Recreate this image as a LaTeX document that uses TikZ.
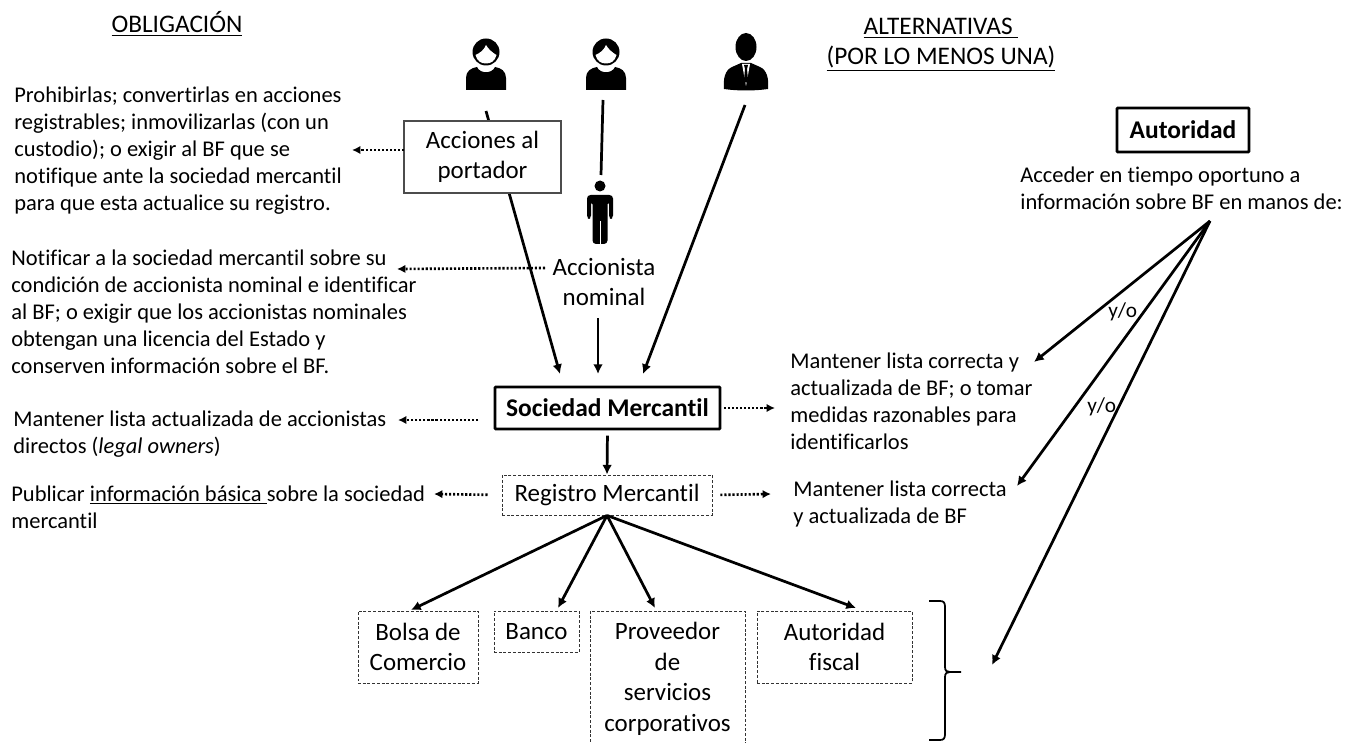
\documentclass[tikz,border=0pt]{standalone}
\usepackage{fontspec}
\setmainfont[Ligatures=NoCommon]{Carlito}
\usetikzlibrary{arrows.meta}

\tikzset{
  txt/.style={anchor=west, inner sep=0pt, align=left, font=\fontsize{12.8}{15.4}\selectfont},
  yotxt/.style={anchor=west, inner sep=0pt, font=\fontsize{12.1}{15}\selectfont},
  title/.style={inner sep=0pt, align=center, font=\fontsize{14.4}{16.8}\selectfont},
  boxtxt/.style={inner sep=0pt, align=center, font=\fontsize{14.2}{17.4}\selectfont},
  plainbox/.style={boxtxt, draw=black!70, line width=0.6pt, fill=white},
  dashbox/.style={boxtxt, draw=black!80, line width=0.5pt, dash pattern=on 1.7pt off 1pt},
  boldbox/.style={boxtxt, draw, line width=1.6pt, rounded corners=0.5pt, font=\fontsize{14.5}{17}\selectfont\bfseries},
  solid arrow/.style={-{Latex[length=5.5pt,width=5.5pt]}, line width=1.55pt},
  dot arrow/.style={-{Latex[length=4.8pt,width=4.8pt]}, line width=1.5pt, dash pattern=on 1.2pt off 1.1pt},
  woman/.pic={
    \fill (0,0) circle (13.5);
    \fill[white] (-10.5,3) .. controls (-6,1) and (-2,-2) .. (0,-7) .. controls (2,-3) and (7,1) .. (10.5,3) .. controls (9,9) and (5,11.5) .. (0,11.5) .. controls (-5,11.5) and (-9,9) .. (-10.5,3) -- cycle;
    \fill (-20,38) -- (-20,26) .. controls (-20,19) and (-15,16) .. (-9,15) .. controls (-6,22) and (6,22) .. (9,15) .. controls (15,16) and (20,19) .. (20,26) -- (20,38) -- cycle;
  },
  suitman/.pic={
    \fill (0,0) ellipse (10.5 and 14);
    \fill (-22,42) .. controls (-23,32) and (-21,23) .. (-14,20) -- (-5,16) -- (5,16) -- (14,20) .. controls (21,23) and (23,32) .. (22,42) .. controls (8,44) and (-8,44) .. (-22,42) -- cycle;
    \fill[white] (-4,17) -- (4,17) -- (0,39) -- cycle;
    \fill (-2,18) -- (2,18) -- (1,22) -- (2,33) -- (0,36) -- (-2,33) -- (-1,22) -- cycle;
  },
  standman/.pic={
    \fill (0,0) circle (5.5);
    \fill[rounded corners=2pt] (-13,33) -- (-13,9) -- (13,9) -- (13,33) -- (9,33) -- (9,15) -- (7.5,15) -- (7.5,58) -- (-7.5,58) -- (-7.5,15) -- (-9,15) -- (-9,33) -- cycle;
    \draw[white, line width=0.5pt] (0,35) -- (0,58);
  }
}

\begin{document}
\begin{tikzpicture}[x=0.02cm, y=-0.02cm]
\useasboundingbox (0,0) rectangle (1345,743);

% -------------------------
% Column titles
% -------------------------
\node[title] (obligacion) at (177,24) {\underline{OBLIGACIÓN}};
\node[title] (alternativas) at (941,45) {\underline{ALTERNATIVAS }\\\underline{(POR LO MENOS UNA)}};

% -------------------------
% People
% -------------------------
\pic at (486,52) {woman};
\pic at (606,52) {woman};
\pic at (746,47) {suitman};
\pic at (600,186) {standman};

% -------------------------
% Free ends of the lines
% -------------------------
\coordinate (womanA) at (486,111);
\coordinate (womanB) at (603,100);
\coordinate (manC) at (745,105);
\coordinate (standD) at (601,175);
\coordinate (tipA) at (560,374);
\coordinate (tipB) at (598,374);
\coordinate (tipC) at (643,374);
\coordinate (authFan) at (1210,221);
\coordinate (tipMantener) at (1034,362);
\coordinate (tipLista) at (1017,486);
\coordinate (tipBrace) at (992,665);

% -------------------------
% Lines behind the boxes
% -------------------------
\draw[solid arrow] (womanA) -- (tipA);
\draw[line width=1.55pt] (womanB) -- (standD);
\draw[solid arrow] (manC) -- (tipC);

% -------------------------
% Central boxes
% -------------------------
\node[plainbox, minimum width=157*0.02cm, minimum height=72*0.02cm] (acciones) at (482.5,157) {Acciones al\\portador};
\node[boxtxt] (nominal) at (604,282) {Accionista\\nominal};
\node[boldbox, minimum width=225*0.02cm, minimum height=42*0.02cm] (sociedad) at (607.5,408) {Sociedad Mercantil};
\node[dashbox, minimum width=210*0.02cm, minimum height=40*0.02cm] (registro) at (607,495) {Registro Mercantil};

\node[dashbox, minimum width=120*0.02cm, minimum height=72*0.02cm] (bolsa) at (418,647) {Bolsa de\\Comercio};
\node[dashbox, minimum width=85*0.02cm, minimum height=41*0.02cm] (banco) at (536.5,631.5) {Banco};
\node[dashbox, minimum width=155*0.02cm, minimum height=136*0.02cm] (proveedor) at (667.5,679) {Proveedor\\de\\servicios\\corporativos};
\node[dashbox, minimum width=155*0.02cm, minimum height=72*0.02cm] (fiscal) at (834.5,647) {Autoridad\\fiscal};

\node[boldbox, minimum width=132*0.02cm, minimum height=44*0.02cm] (autoridad) at (1183,130) {Autoridad};

% -------------------------
% Text blocks left
% -------------------------
\node[txt] (prohibir) at (14,151) {Prohibirlas; convertirlas en acciones\\registrables; inmovilizarlas (con un\\custodio); o exigir al BF que se\\notifique ante la sociedad mercantil\\para que esta actualice su registro.};
\node[txt] (notificar) at (11,312) {Notificar a la sociedad mercantil sobre su\\condición de accionista nominal e identificar\\al BF; o exigir que los accionistas nominales\\obtengan una licencia del Estado y\\conserven información sobre el BF.};
\node[txt] (directos) at (13,434) {Mantener lista actualizada de accionistas\\directos (\textit{legal owners})};
\node[txt] (publicar) at (11,507) {Publicar \underline{información básica }sobre la sociedad\\mercantil};

% -------------------------
% Text blocks right
% -------------------------
\node[txt] (medidas) at (790,401) {Mantener lista correcta y\\actualizada de BF; o tomar\\medidas razonables para\\identificarlos};
\node[txt] (lista) at (793,504) {Mantener lista correcta\\y actualizada de BF};
\node[txt] (acceder) at (1020,188) {Acceder en tiempo oportuno a\\información sobre BF en manos de:};
\node[yotxt] (yoA) at (1108,312) {y/o};
\node[yotxt] (yoB) at (1087,407) {y/o};

% -------------------------
% Dotted arrows
% -------------------------
\coordinate (startProhibir) at (404,150);
\coordinate (endProhibir) at (352,150);
\coordinate (endNotificar) at (397,269);
\coordinate (startNotificar) at (545,268);
\coordinate (endDirectos) at (398,420);
\coordinate (startDirectos) at (478,420);
\coordinate (endMedidas) at (775,408);
\coordinate (endPublicar) at (434,494);
\coordinate (endLista) at (771,494);

\draw[dot arrow] (startProhibir) -- (endProhibir);
\draw[dot arrow] (startNotificar) -- (endNotificar);
\draw[dot arrow] (startDirectos) -- (endDirectos);
\draw[dot arrow, shorten <=1.5pt] (sociedad.east) -- (endMedidas);
\draw[dot arrow, shorten <=8pt] (registro.west) -- (endPublicar);
\draw[dot arrow, shorten <=4.5pt] (registro.east) -- (endLista);

% -------------------------
% Solid arrows
% -------------------------
\coordinate (nominalOut) at (598,318);
\draw[solid arrow] (nominalOut) -- (tipB);
\draw[solid arrow, shorten <=3pt] (sociedad.south) -- (registro.north);

\coordinate (tipBolsa) at (411,610);
\coordinate (tipBanco) at (558,608);
\coordinate (tipProveedor) at (655,608);
\coordinate (tipFiscal) at (856,608);
\draw[solid arrow] (registro.south) -- (tipBolsa);
\draw[solid arrow] (registro.south) -- (tipBanco);
\draw[solid arrow] (registro.south) -- (tipProveedor);
\draw[solid arrow] (registro.south) -- (tipFiscal);

\draw[solid arrow] (authFan) -- (tipMantener);
\draw[solid arrow] (authFan) -- (tipLista);
\draw[solid arrow] (authFan) -- (tipBrace);

% -------------------------
% Brace
% -------------------------
\draw[line width=1pt] (929,601) -- (940,601) .. controls (944,601) and (945,603) .. (945,607) -- (945,667) .. controls (945,671) and (947,672) .. (950,672) -- (961,672);
\draw[line width=1pt] (950,672) .. controls (947,672) and (945,673) .. (945,677) -- (945,734) .. controls (945,738) and (944,740) .. (940,740) -- (929,740);

\end{tikzpicture}
\end{document}
